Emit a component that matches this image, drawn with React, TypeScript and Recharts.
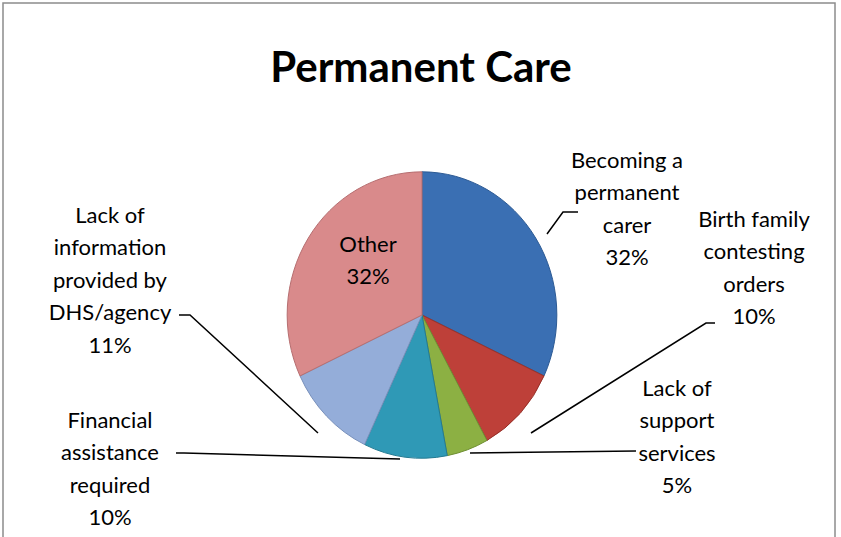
import React from "react";
import { PieChart, Pie, Cell } from "recharts";

const CATEGORIES = [
  "Becoming a permanent carer",
  "Birth family contesting orders",
  "Lack of support services",
  "Financial assistance required",
  "Lack of information provided by DHS/agency",
  "Other",
];
const VALUES = [32, 10, 5, 10, 11, 32];
const LABEL_LINES = [
  ["Becoming a", "permanent", "carer"],
  ["Birth family", "contesting", "orders"],
  ["Lack of", "support", "services"],
  ["Financial", "assistance", "required"],
  ["Lack of", "information", "provided by", "DHS/agency"],
  ["Other"],
];
const TITLE = "Permanent Care";

const COLORS = ["#3A6FB3", "#BE4039", "#8CB043", "#2F99B6", "#94ADD9", "#D98A8B"];
const STROKES = ["#2C5A94", "#963029", "#6F8F33", "#237A92", "#7890BB", "#B66E70"];

// label layout relative to pie centre: text centre x, first line y, leader polyline
const LAYOUT = [
  { tx: 205, ty: -156, line: [[125, -81], [141, -103], [156, -103]] },
  { tx: 332, ty: -97, line: [[109, 118], [284, 8], [293, 8]] },
  { tx: 255, ty: 72, line: [[48, 138], [214, 136]] },
  { tx: -312, ty: 104, line: [[-22, 144], [-238, 138], [-246, 138]] },
  { tx: -312, ty: -101, line: [[-104, 118], [-232, 0], [-243, 0]] },
  { tx: -54, ty: -72, line: [] as number[][] },
];
const LINE_H = 32.5;
const X_SCALE = 0.97;
const Y_SCALE = 1.03;

const data = CATEGORIES.map((name, i) => ({ name, value: VALUES[i] }));

const RAD = Math.PI / 180;

const EllipseSector = (props: any) => {
  const { cx, cy, startAngle, endAngle, outerRadius, index } = props;
  const rx = outerRadius * X_SCALE;
  const ry = outerRadius * Y_SCALE;
  const pt = (a: number) => [cx + rx * Math.cos(a * RAD), cy - ry * Math.sin(a * RAD)];
  const [x1, y1] = pt(startAngle);
  const [x2, y2] = pt(endAngle);
  const large = Math.abs(endAngle - startAngle) > 180 ? 1 : 0;
  const sweep = startAngle > endAngle ? 1 : 0;
  const i = index ?? 0;
  return (
    <path
      d={`M${cx},${cy} L${x1},${y1} A${rx},${ry} 0 ${large} ${sweep} ${x2},${y2} Z`}
      fill={props.fill}
      stroke={STROKES[i]}
      strokeWidth={1}
    />
  );
};

const renderLabel = (props: any) => {
  const { cx, cy, index, percent } = props;
  const lay = LAYOUT[index];
  const lines = [...LABEL_LINES[index], `${Math.round(percent * 100)}%`];
  const pts = lay.line.map(([dx, dy]) => `${cx + dx},${cy + dy}`).join(" ");
  return (
    <g key={`lbl-${index}`}>
      {lay.line.length > 0 && (
        <polyline points={pts} fill="none" stroke="#000" strokeWidth={1.5} />
      )}
      <text
        x={cx + lay.tx}
        y={cy + lay.ty}
        textAnchor="middle"
        fontFamily="Lato, 'Open Sans', sans-serif"
        fontSize={22}
        fill="#000"
      >
        {lines.map((l, k) => (
          <tspan key={k} x={cx + lay.tx} y={cy + lay.ty + k * LINE_H} dominantBaseline="central">
            {l}
          </tspan>
        ))}
      </text>
    </g>
  );
};

export default function App() {
  return (
    <div style={{ position: "absolute", left: 0, top: 0, width: 841, height: 537, background: "#fff" }}>
      <PieChart width={841} height={537}>
        <rect x={3} y={3} width={832} height={545} fill="none" stroke="#8c8c8c" strokeWidth={1.5} />
        <text
          x={421}
          y={66}
          textAnchor="middle"
          dominantBaseline="central"
          fontFamily="Lato, 'Open Sans', sans-serif"
          fontWeight="bold"
          fontSize={42}
          fill="#000"
        >
          {TITLE}
        </text>
        <Pie
          data={data}
          dataKey="value"
          nameKey="name"
          cx={417}
          cy={310}
          outerRadius={139}
          startAngle={90}
          endAngle={-270}
          isAnimationActive={false}
          shape={EllipseSector}
          label={renderLabel}
          labelLine={false}
          stroke="none"
        >
          {data.map((d, i) => (
            <Cell key={d.name} fill={COLORS[i]} />
          ))}
        </Pie>
      </PieChart>
    </div>
  );
}
